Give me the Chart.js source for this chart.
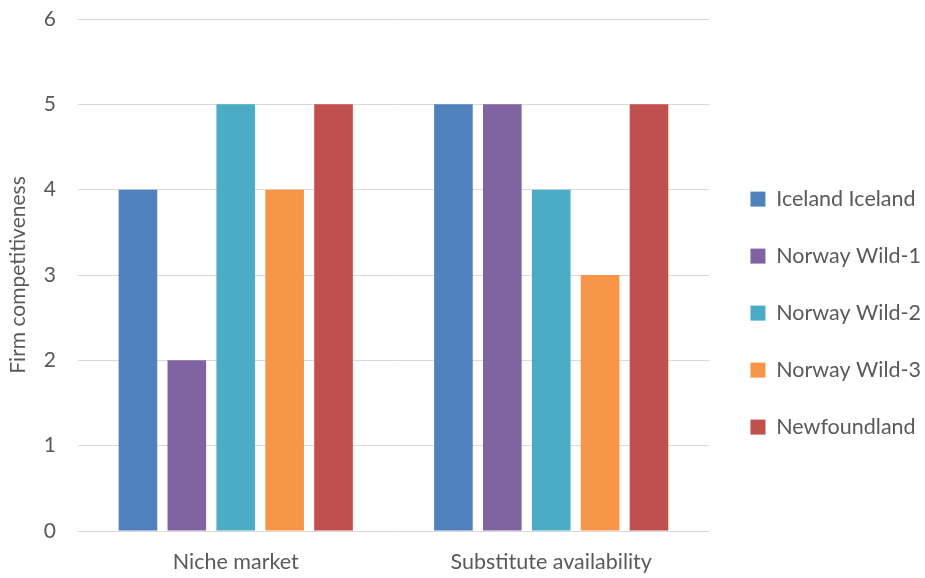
<!DOCTYPE html>
<html>
<head>
<meta charset="utf-8">
<script src="https://cdn.jsdelivr.net/npm/chart.js@4"></script>
<style>
  html, body { margin: 0; padding: 0; background: #fff; }
  #wrap { width: 925px; height: 578px; }
</style>
</head>
<body>
<div id="wrap"><canvas id="chart" width="925" height="578"></canvas></div>
<script>
// data
const categories = ['Niche market', 'Substitute availability'];
const seriesNames = ['Iceland Iceland', 'Norway Wild-1', 'Norway Wild-2', 'Norway Wild-3', 'Newfoundland'];
const icelandIceland = [4, 5];
const norwayWild1 = [2, 5];
const norwayWild2 = [5, 4];
const norwayWild3 = [4, 3];
const newfoundland = [5, 5];
const yTicks = [0, 1, 2, 3, 4, 5, 6];

const seriesValues = [icelandIceland, norwayWild1, norwayWild2, norwayWild3, newfoundland];
const colors = ['#4F81BD', '#8064A2', '#4BACC6', '#F79646', '#C0504D'];

const FONT = 'Lato, "Open Sans", sans-serif';
const TEXT = '#595959';

// nudge the legend a little to the right, as in the original
const legendShift = {
  id: 'legendShift',
  afterLayout(chart) {
    const lg = chart.legend;
    if (lg) { lg.left += 6; lg.right += 6; }
  }
};

new Chart(document.getElementById('chart'), {
  type: 'bar',
  data: {
    labels: categories,
    datasets: seriesValues.map((vals, i) => ({
      label: seriesNames[i],
      data: vals,
      backgroundColor: colors[i],
      borderWidth: 0,
      categoryPercentage: 0.775,
      barPercentage: 0.79
    }))
  },
  options: {
    responsive: false,
    animation: false,
    layout: { padding: 0 },
    plugins: {
      tooltip: { enabled: false },
      legend: {
        position: 'right',
        title: { display: true, text: ' ', font: { size: 1 }, padding: { top: 47, bottom: 0 } },
        labels: {
          color: TEXT,
          font: { family: FONT, size: 21.5 },
          boxWidth: 15,
          boxHeight: 15,
          padding: 35.5
        }
      }
    },
    scales: {
      x: {
        grid: { display: false, drawTicks: false },
        border: { display: true, color: '#d9d9d9', width: 1 },
        ticks: { color: TEXT, font: { family: FONT, size: 21.5 }, padding: 18 },
        afterFit: s => { s.height = 47; }
      },
      y: {
        min: 0,
        max: 6,
        afterBuildTicks: axis => { axis.ticks = yTicks.map(v => ({ value: v })); },
        afterFit: s => { s.width = 78; s.paddingTop = 19; s.paddingBottom = 12; },
        grid: { color: '#d9d9d9', lineWidth: 1, drawTicks: false },
        border: { display: false },
        ticks: { color: TEXT, font: { family: FONT, size: 21 }, padding: 22 },
        title: { display: true, text: 'Firm competitiveness', color: TEXT, font: { family: FONT, size: 21 }, padding: { top: 6, bottom: 0 } }
      }
    }
  },
  plugins: [legendShift]
});
</script>
</body>
</html>
